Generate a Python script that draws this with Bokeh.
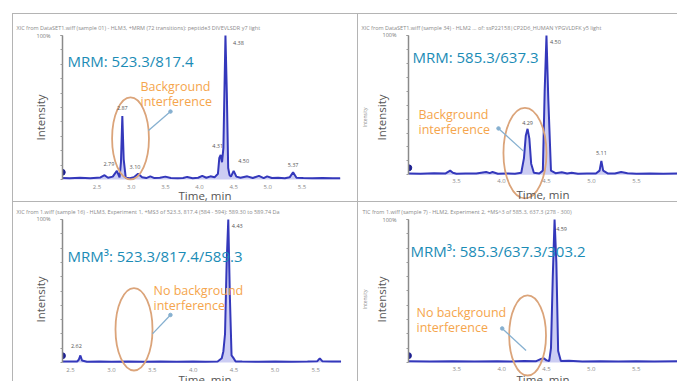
from bokeh.plotting import figure
from bokeh.layouts import row, column
from bokeh.models import Range1d, FixedTicker, LinearAxis, Label, Spacer
from bokeh.embed import file_html
from bokeh.resources import INLINE

# ---- chromatogram traces: retention time (min) and relative intensity (%) ----
a_time = [1.99, 2.10, 2.25, 2.40, 2.55, 2.61, 2.66, 2.73, 2.79, 2.83,
          2.85, 2.87, 2.89, 2.92, 2.98, 3.04, 3.10, 3.16, 3.22, 3.28,
          3.34, 3.42, 3.50, 3.58, 3.68, 3.76, 3.82, 3.90, 3.98, 4.04,
          4.10, 4.16, 4.22, 4.27, 4.29, 4.31, 4.33, 4.35, 4.38, 4.40,
          4.42, 4.44, 4.46, 4.50, 4.54, 4.60, 4.70, 4.78, 4.87, 4.94,
          4.99, 5.06, 5.15, 5.25, 5.32, 5.37, 5.42, 5.52, 5.65, 5.80,
          5.95, 6.06]
a_int = [1.0, 0.8, 1.2, 0.9, 1.4, 3.0, 1.2, 2.0, 6.0, 1.5,
         12, 44, 14, 1.2, 0.8, 1.5, 4.0, 1.5, 1.0, 2.2,
         1.0, 1.2, 2.0, 1.0, 0.8, 1.0, 1.8, 0.9, 1.2, 2.5,
         1.2, 2.2, 1.5, 4.0, 15, 17, 12, 22, 100, 60,
         8.0, 3.0, 2.0, 6.0, 2.0, 1.2, 2.2, 1.0, 2.5, 1.0,
         2.2, 1.0, 1.2, 0.9, 1.5, 5.0, 1.2, 1.0, 0.8, 1.0,
         0.8, 0.9]
a_peaks = [2.79, 2.87, 3.10, 4.31, 4.38, 4.50, 5.37]

b_time = [2.97, 3.10, 3.25, 3.38, 3.43, 3.46, 3.50, 3.60, 3.72, 3.83,
          3.87, 3.90, 3.96, 4.05, 4.15, 4.22, 4.25, 4.27, 4.29, 4.31,
          4.33, 4.36, 4.42, 4.46, 4.48, 4.50, 4.52, 4.55, 4.60, 4.67,
          4.73, 4.78, 4.85, 4.95, 5.05, 5.09, 5.11, 5.13, 5.18, 5.26,
          5.33, 5.40, 5.50, 5.65, 5.80, 5.96]
b_int = [1.0, 0.8, 1.2, 1.0, 3.0, 1.5, 0.8, 1.0, 0.9, 2.0,
         1.2, 2.0, 0.8, 1.0, 0.8, 1.5, 12, 28, 33, 26,
         8.0, 1.5, 1.0, 3.0, 60, 100, 55, 3.0, 1.2, 1.8,
         1.0, 1.5, 0.8, 1.0, 0.9, 3.0, 10, 3.0, 1.0, 0.9,
         2.0, 1.2, 0.8, 1.0, 0.8, 0.9]
b_peaks = [4.29, 4.50, 5.11]

c_time = [2.40, 2.50, 2.58, 2.60, 2.62, 2.64, 2.70, 2.85, 3.00, 3.20,
          3.40, 3.60, 3.80, 4.00, 4.15, 4.30, 4.35, 4.37, 4.39, 4.41,
          4.43, 4.45, 4.47, 4.49, 4.52, 4.60, 4.80, 5.00, 5.20, 5.40,
          5.52, 5.55, 5.58, 5.70, 5.81]
c_int = [0.8, 0.8, 0.8, 2.0, 5.0, 1.5, 0.6, 0.8, 0.6, 0.7,
         0.6, 0.7, 0.6, 0.7, 0.6, 0.8, 3.0, 8.0, 20, 70,
         100, 45, 5.0, 3.5, 0.8, 0.7, 0.6, 0.7, 0.6, 0.7,
         1.0, 3.0, 1.0, 0.7, 0.7]
c_peaks = [2.62, 4.43]

d_time = [2.96, 3.20, 3.45, 3.70, 3.95, 4.10, 4.25, 4.38, 4.44, 4.47,
          4.50, 4.53, 4.55, 4.57, 4.59, 4.61, 4.63, 4.66, 4.75, 4.90,
          5.10, 5.30, 5.50, 5.70, 5.96]
d_int = [0.8, 0.7, 0.8, 0.7, 0.8, 0.7, 1.0, 0.8, 2.5, 3.0,
         1.5, 1.0, 10, 60, 100, 70, 8.0, 1.0, 1.2, 0.7,
         0.8, 0.7, 0.8, 0.7, 0.8]
d_peaks = [4.59]

# tick labels on the time axes
a_ticks = [2.5, 3.0, 3.5, 4.0, 4.5, 5.0, 5.5]
b_ticks = [3.5, 4.0, 4.5, 5.0, 5.5]
c_ticks = [2.5, 3.0, 3.5, 4.0, 4.5, 5.0, 5.5]
d_ticks = [3.5, 4.0, 4.5, 5.0, 5.5]

a_title = "XIC from DataSET1.wiff (sample 01) - HLM3, +MRM (72 transitions): peptide3 DIVEVLSDR y7 light"
b_title = "XIC from DataSET1.wiff (sample 34) - HLM2 ... of: ssP22158|CP2D6_HUMAN YPGVLDFK y5 light"
c_title = "XIC from 1.wiff (sample 16) - HLM3, Experiment 1, +MS3 of 523.3, 817.4 (584 - 594): 589.30 to 589.74 Da"
d_title = "TIC from 1.wiff (sample 7) - HLM2, Experiment 2, +MS^3 of 585.3, 637.3 (278 - 300)"

a_transition = "MRM: 523.3/817.4"
b_transition = "MRM: 585.3/637.3"
c_transition = "MRM\u00b3: 523.3/817.4/589.3"
d_transition = "MRM\u00b3: 585.3/637.3/303.2"

a_note = ["Background", "interference"]
b_note = ["Background", "interference"]
c_note = ["No background", "interference"]
d_note = ["No background", "interference"]

TRACE = "#3438bb"
TRACE_FILL = "#8d90e4"
TEAL = "#1b8cb6"
ORANGE = "#f5a54c"
RING = "#dba47a"
POINTER = "#86b0d0"
RULE = "#b4b4b4"
FONT = "Open Sans"


def panel(width, height, borders, xr, yr, ticks, title, time, inten, peaks,
          peak_offsets, transition, trans_xy, note, note_xy, ring, pointer,
          standoffs, small_label=False):
    left, right, top = borders
    tick_standoff, time_standoff, ylabel_standoff = standoffs
    p = figure(width=width, height=height, output_backend="svg",
               toolbar_location=None, x_range=Range1d(*xr), y_range=Range1d(*yr),
               min_border_left=left, min_border_right=right,
               min_border_top=top, min_border_bottom=0,
               background_fill_color="white", border_fill_color="white")
    p.outline_line_color = None
    p.grid.visible = False

    p.title.text = title
    p.title.text_font = FONT
    p.title.text_font_size = "5.5px"
    p.title.text_font_style = "normal"
    p.title.text_color = "#8a8a8a"
    p.title.align = "left"
    p.title.offset = -left + 3
    p.title.standoff = 3

    # time axis pinned to the zero-intensity baseline
    xa = p.xaxis[0]
    xa.fixed_location = 0
    xa.ticker = FixedTicker(ticks=ticks)
    xa.major_label_overrides = {t: f"{t:.1f}" for t in ticks}
    xa.major_label_text_font = FONT
    xa.major_label_text_font_size = "6px"
    xa.major_label_text_color = "#8a8a8a"
    xa.major_label_standoff = tick_standoff
    xa.major_tick_out = 0
    xa.major_tick_in = 0
    xa.minor_tick_out = 0
    xa.minor_tick_in = 0
    xa.axis_line_color = None
    xa.major_tick_line_color = None
    xa.minor_tick_line_color = None
    xa.axis_label = "Time, min"
    xa.axis_label_text_font = FONT
    xa.axis_label_text_font_size = "11.5px"
    xa.axis_label_text_font_style = "normal"
    xa.axis_label_text_color = "#555555"
    xa.axis_label_standoff = time_standoff

    ya = p.yaxis[0]
    ya.ticker = FixedTicker(ticks=[100], minor_ticks=list(range(0, 101, 10)))
    ya.major_label_overrides = {100: "100%"}
    ya.major_label_text_font = FONT
    ya.major_label_text_font_size = "5.5px"
    ya.major_label_text_color = "#777777"
    ya.major_label_standoff = 10
    ya.bounds = (0, 100)
    ya.axis_line_color = "#8a8a8a"
    ya.axis_line_width = 1.5
    ya.major_tick_in = 0
    ya.major_tick_out = 2
    ya.minor_tick_in = 0
    ya.minor_tick_out = 2
    ya.major_tick_line_color = "#8a8a8a"
    ya.minor_tick_line_color = "#9a9a9a"
    ya.axis_label = "Intensity"
    ya.axis_label_text_font = FONT
    ya.axis_label_text_font_size = "11.5px"
    ya.axis_label_text_font_style = "normal"
    ya.axis_label_text_color = "#555555"
    ya.axis_label_standoff = ylabel_standoff

    if small_label:
        extra = LinearAxis(axis_label="Intensity", ticker=FixedTicker(ticks=[]),
                           axis_line_color=None, major_tick_line_color=None,
                           minor_tick_line_color=None, major_tick_out=0,
                           minor_tick_out=0,
                           major_label_text_font_size="1px",
                           axis_label_text_font=FONT,
                           axis_label_text_font_size="5px",
                           axis_label_text_font_style="normal",
                           axis_label_text_color="#8a8a8a",
                           axis_label_standoff=3)
        p.add_layout(extra, "left")

    # trace
    p.varea(x=time, y1=[0] * len(time), y2=inten, fill_color=TRACE_FILL, fill_alpha=0.45)
    p.line(time, inten, line_color=TRACE, line_width=2)
    p.scatter([time[0]], [inten[0] + 4], size=6, color="#1e2190")

    # peak apex labels
    lookup = dict(zip(time, inten))
    for t, (dx, dy) in zip(peaks, peak_offsets):
        p.add_layout(Label(x=t, y=lookup[t], text=f"{t:.2f}", x_offset=dx, y_offset=dy,
                           text_font=FONT, text_font_size="5.5px", text_color="#555555",
                           text_align="center", text_baseline="middle"))

    # transition caption
    p.add_layout(Label(x=trans_xy[0], y=trans_xy[1], text=transition, text_color=TEAL,
                       text_font=FONT, text_font_size="15px", text_baseline="middle"))
    # interference note
    for k, line in enumerate(note):
        p.add_layout(Label(x=note_xy[0], y=note_xy[1], y_offset=-15.5 * k, text=line,
                           text_color=ORANGE, text_font=FONT, text_font_size="12.5px",
                           text_baseline="middle"))
    # ring around the region of interest
    p.ellipse(x=ring[0], y=ring[1], width=ring[2], height=ring[3], fill_color=None,
              line_color=RING, line_width=1.8)
    # pointer from note to ring
    p.line([pointer[0], pointer[2]], [pointer[1], pointer[3]], line_color=POINTER, line_width=1.3)
    p.scatter([pointer[2]], [pointer[3]], size=3.5, color=POINTER)
    return p


pA = panel(344, 187, (49, 10, 19), (1.994, 6.167), (-15.28, 101.39), a_ticks, a_title,
           a_time, a_int, a_peaks,
           [(-8, 7), (0, 8), (-3, 7), (-3, 9), (13, -7), (10, 10), (0, 7)],
           a_transition, (2.067, 82.6), a_note, (3.136, 64.6),
           (2.99, 28.5, 0.54, 57), (3.253, 34.0, 3.575, 47.2), (6, -5, -14))
pB = panel(319, 187, (50, 0, 17), (2.967, 5.956), (-19.15, 101.42), b_ticks, b_title,
           b_time, b_int, b_peaks,
           [(0, 6), (9, -7), (0, 8)],
           b_transition, (3.011, 84.4), b_note, (3.078, 43.3),
           (4.261, 15.6, 0.478, 65), (4.244, 17.0, 3.967, 33.3), (4, 1, -9),
           small_label=True)
pC = panel(344, 179, (49, 10, 14), (2.401, 5.889), (-13.19, 101.39), c_ticks, c_title,
           c_time, c_int, c_peaks,
           [(-4, 9), (9, -7)],
           c_transition, (2.462, 74.3), c_note, (3.515, 50.7),
           (3.276, 23.3, 0.453, 57.6), (3.502, 20.1, 3.722, 33.3), (5, -3, -14))
pD = panel(319, 179, (49, 0, 15), (2.961, 5.961), (-13.29, 101.40), d_ticks, d_title,
           d_time, d_int, d_peaks,
           [(7, -9)],
           d_transition, (2.983, 78.3), d_note, (3.05, 35.0),
           (4.289, 18.9, 0.411, 56), (4.272, 8.4, 4.006, 23.8), (5, -3, -9),
           small_label=True)


def rule(w, h):
    return Spacer(width=w, height=h, styles={"background-color": RULE})


panels = column(rule(664, 1), row(pA, rule(1, 187), pB), rule(664, 1),
                row(pC, rule(1, 179), pD))
layout = row(rule(1, 368), panels, margin=(13, 0, 0, 12))

open("out.html", "w").write(file_html(layout, INLINE))
